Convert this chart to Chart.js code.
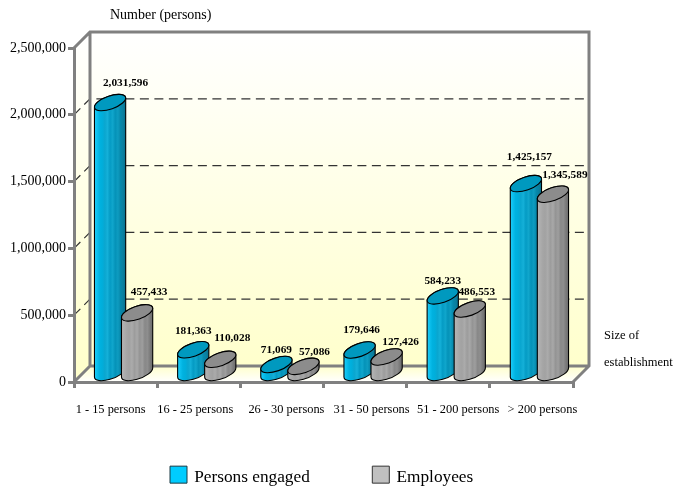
<!DOCTYPE html>
<html><head><meta charset="utf-8">
<style>html,body{margin:0;padding:0;background:#fff}canvas{display:block}</style>
<script src="https://cdn.jsdelivr.net/npm/chart.js@4"></script>
</head><body>
<canvas id="c" width="673" height="488"></canvas>
<script>
const categories = ['1 - 15 persons','16 - 25 persons','26 - 30 persons','31 - 50 persons','51 - 200 persons','> 200 persons'];
const personsEngaged = [2031596,181363,71069,179646,584233,1425157];
const employees = [457433,110028,57086,127426,486553,1345589];
const yTickStep = 500000;
const yMax = 2500000;

const FONT = '"Liberation Serif","Times New Roman",serif';
const GRAY = '#808080';
const DEPTH = {x:16, y:-16};
const catLabelNudge = [-5,-3.5,4.5,6.5,10,11];
const labelNudge = [
  [[15.5,-19],[0,-19],[0,-14],[2,-20],[0,-15],[3.5,-27]],
  [[12,-21],[12,-21],[11,-14],[14,-15],[7,-17],[12,-19]]
];
const fmt = v => v.toLocaleString('en-US');

const blueStops = ['#20cdf8','#0cc0ee','#00b2e0','#00aedb','#0aa6cf','#14b0d8','#049bc4','#10a6cc','#0492b8','#0e9cc0','#0688ab','#0b7f9f','#06708e'];
const grayStops = ['#b4b4b4','#aeaeae','#a6a6a6','#a2a2a2','#ababab','#9c9c9c','#a8a8a8','#949494','#9e9e9e','#888888','#8e8e8e','#7a7a7a','#6c6c6c'];

function cylinder(ctx, bar, stops, topColor){
  const cx = bar.x + DEPTH.x/2, a = bar.width*0.607, b = 6.5, r = -19.5*Math.PI/180;
  const ty = bar.y + DEPTH.y/2, by = bar.base + DEPTH.y/2;
  const t0 = Math.atan(-(b/a)*Math.tan(r));
  const xe = Math.sqrt(Math.pow(a*Math.cos(r),2)+Math.pow(b*Math.sin(r),2));
  const g = ctx.createLinearGradient(cx-xe,0,cx+xe,0);
  stops.forEach((c,i)=>g.addColorStop(i/(stops.length-1),c));
  ctx.save();
  ctx.lineWidth = 1.1; ctx.strokeStyle = '#000';
  ctx.beginPath();
  ctx.ellipse(cx,by,a,b,r,t0,t0+Math.PI,false);
  ctx.ellipse(cx,ty,a,b,r,t0+Math.PI,t0+2*Math.PI,false);
  ctx.closePath();
  ctx.fillStyle = g; ctx.fill(); ctx.stroke();
  ctx.beginPath();
  ctx.ellipse(cx,ty,a,b,r,0,2*Math.PI);
  ctx.fillStyle = topColor; ctx.fill(); ctx.stroke();
  ctx.restore();
}

const scene = {
  id:'scene',
  beforeLayout(chart){
    const l = chart.legend;
    if(!l._flat){
      const fit = l.fit, draw = l.draw;
      l.fit = function(){ fit.call(this); this.height = 0; };
      l.draw = function(){
        const c = this.ctx, ft = c.fillText;
        c.fillText = function(t,x,y,m){ ft.call(c,t,x-1.5,y+2.5); };
        draw.call(this);
        delete c.fillText;
      };
      l._flat = true;
    }
  },
  afterLayout(chart){
    const l = chart.legend;
    l.left = 170 - l.options.labels.padding; l.right = 670;
    l.top = 466 - l.options.labels.padding; l.bottom = 488;
  },
  afterUpdate(chart){
    chart.scales.x.getLabelItems().forEach((it,i)=>{ it.options.translation[0] += catLabelNudge[i]; });
  },
  beforeDraw(chart){
    const ctx = chart.ctx, {left:L,right:R,top:T,bottom:B} = chart.chartArea, y = chart.scales.y;
    const dx = DEPTH.x, dy = DEPTH.y;
    ctx.save();
    ctx.fillStyle = '#fff'; ctx.fillRect(0,0,chart.width,chart.height);
    const g = ctx.createLinearGradient(0,T+dy,0,B+dy);
    g.addColorStop(0,'#ffffff'); g.addColorStop(1,'#ffffcc');
    ctx.fillStyle = g;
    ctx.fillRect(L+dx,T+dy,R-L,B-T);
    ctx.beginPath(); ctx.moveTo(L,T); ctx.lineTo(L+dx,T+dy); ctx.lineTo(L+dx,B+dy); ctx.lineTo(L,B); ctx.closePath(); ctx.fill();
    const f = ctx.createLinearGradient(0,B+dy,0,B);
    f.addColorStop(0,'#ffffcc'); f.addColorStop(1,'#ffffff');
    ctx.fillStyle = f;
    ctx.beginPath(); ctx.moveTo(L,B); ctx.lineTo(L+dx,B+dy); ctx.lineTo(R+dx,B+dy); ctx.lineTo(R,B); ctx.closePath(); ctx.fill();
    ctx.strokeStyle = '#333'; ctx.lineWidth = 1.2; ctx.setLineDash([9,5.5]);
    y.ticks.forEach(t=>{
      if(t.value===0||t.value===yMax) return;
      const p = y.getPixelForValue(t.value);
      ctx.beginPath(); ctx.moveTo(L,p); ctx.lineTo(L+dx,p+dy); ctx.lineTo(R+dx,p+dy); ctx.stroke();
    });
    ctx.setLineDash([]);
    ctx.strokeStyle = GRAY; ctx.lineWidth = 3; ctx.lineJoin='miter';
    ctx.beginPath();
    ctx.moveTo(L,T); ctx.lineTo(L+dx,T+dy); ctx.lineTo(R+dx,T+dy); ctx.lineTo(R+dx,B+dy); ctx.lineTo(R,B);
    ctx.moveTo(L+dx,T+dy); ctx.lineTo(L+dx,B+dy); ctx.lineTo(R+dx,B+dy);
    ctx.moveTo(L+dx,B+dy); ctx.lineTo(L,B);
    ctx.stroke();
    ctx.restore();
  },
  beforeDatasetsDraw(chart){
    const ctx = chart.ctx;
    const m0 = chart.getDatasetMeta(0).data, m1 = chart.getDatasetMeta(1).data;
    categories.forEach((c,i)=>{
      cylinder(ctx,m0[i],blueStops,'#0099bf');
      cylinder(ctx,m1[i],grayStops,'#8c8c8c');
    });
    ctx.save();
    ctx.fillStyle = '#000'; ctx.textAlign='center'; ctx.textBaseline='middle';
    ctx.font = 'bold 11.3px '+FONT;
    [m0,m1].forEach((m,d)=>m.forEach((bar,i)=>{
      const v = chart.data.datasets[d].data[i];
      ctx.fillText(fmt(v), bar.x+DEPTH.x/2+labelNudge[d][i][0], bar.y+DEPTH.y/2+labelNudge[d][i][1]);
    }));
    ctx.textAlign='left';
    ctx.font = '14px '+FONT;
    ctx.fillText('Number (persons)',110,15);
    ctx.font = '12.5px '+FONT;
    ctx.fillText('Size of',604,336);
    ctx.fillText('establishment',604,363);
    ctx.restore();
    return false;
  }
};

new Chart(document.getElementById('c'),{
  type:'bar',
  data:{labels:categories,datasets:[
    {label:'Persons engaged',data:personsEngaged,backgroundColor:'#00ccff',borderColor:'#1a3a44',borderWidth:1},
    {label:'Employees',data:employees,backgroundColor:'#c0c0c0',borderColor:'#333',borderWidth:1}
  ]},
  options:{
    responsive:false,animation:false,
    layout:{padding:{top:48,right:100,left:0,bottom:0}},
    datasets:{bar:{categoryPercentage:0.65,barPercentage:1}},
    plugins:{
      tooltip:{enabled:false},
      legend:{display:true,position:'bottom',align:'start',
        labels:{boxWidth:17,boxHeight:17,padding:61,color:'#000',font:{family:FONT,size:17.3}}}
    },
    scales:{
      x:{
        afterFit(s){s.height=106;},
        grid:{drawOnChartArea:false,drawTicks:true,tickLength:6,tickColor:GRAY,tickWidth:3,color:GRAY,lineWidth:3},
        border:{display:true,color:GRAY,width:3},
        ticks:{color:'#000',padding:14,maxRotation:0,autoSkip:false,font:{family:FONT,size:12.4}}
      },
      y:{
        min:0,max:yMax,
        afterFit(s){s.width=74;},
        grid:{drawOnChartArea:false,drawTicks:true,tickLength:6,tickColor:GRAY,tickWidth:3,color:GRAY,lineWidth:3},
        border:{display:true,color:GRAY,width:3},
        ticks:{stepSize:yTickStep,color:'#000',padding:2,font:{family:FONT,size:14},callback:v=>fmt(v)}
      }
    }
  },
  plugins:[scene]
});
</script>
</body></html>
